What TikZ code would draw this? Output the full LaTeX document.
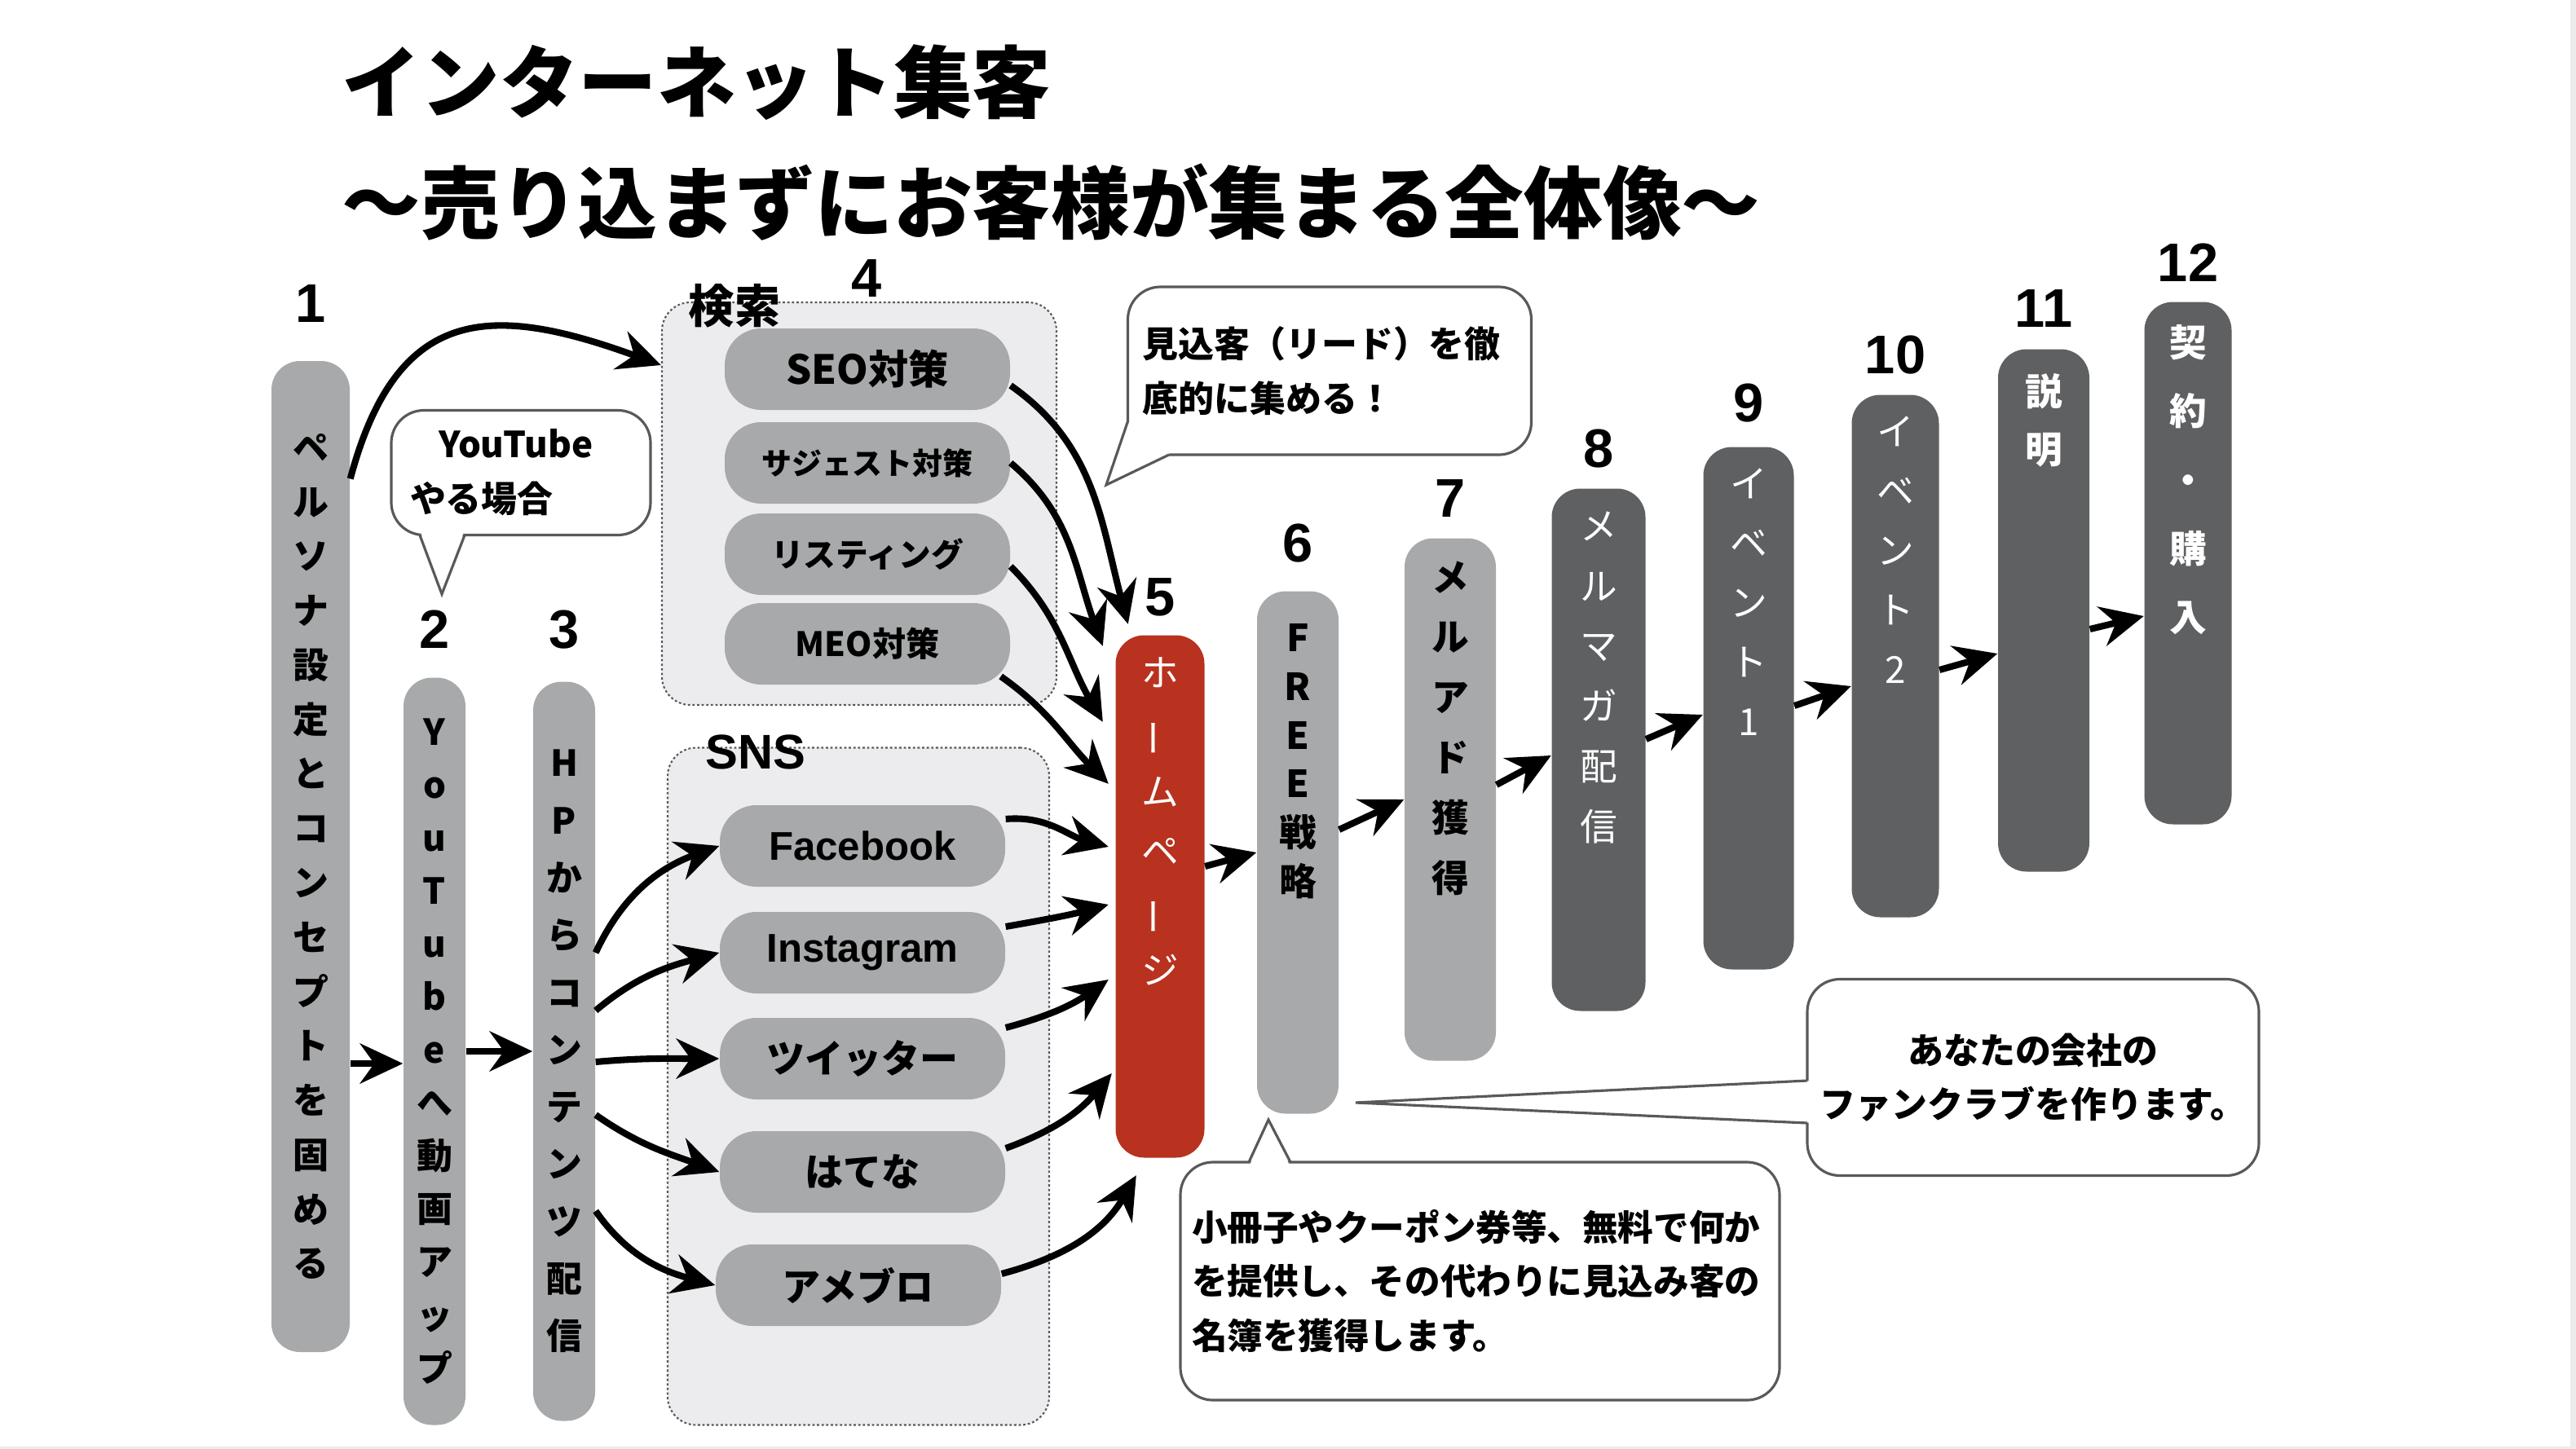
\documentclass[tikz,border=0pt]{standalone}
\usepackage{fontspec}
\usepackage{graphicx}
\setmainfont{Noto Sans CJK JP}
\newfontfamily\hel{Liberation Sans}
\usetikzlibrary{arrows.meta,positioning}

\definecolor{ltgray}{HTML}{A7A9AA}
\definecolor{dkgray}{HTML}{5F6062}
\definecolor{hpred}{HTML}{B8321F}
\definecolor{grpfill}{HTML}{ECECEE}
\definecolor{edgegray}{HTML}{58595B}
\definecolor{strip}{HTML}{EBEBEB}

\newcommand{\fsz}[2]{\fontsize{#1}{#2}\selectfont}
\newcommand{\chouon}{\rotatebox[origin=c]{90}{ー}}

\tikzset{
  title/.style={anchor=west, inner sep=0pt, font=\bfseries\fsz{27.5}{27.5}},
  bar/.style={rounded corners=0.35cm, inner sep=0pt, align=center, minimum width=1.1cm, minimum height=6.41cm},
  vtxt/.style={align=center, inner sep=0pt},
  grp/.style={draw=edgegray, fill=grpfill, line width=0.6pt, dash pattern=on 0.8pt off 0.8pt, rounded corners=0.35cm},
  item/.style={fill=ltgray, rounded corners=0.45cm, inner sep=0pt, minimum width=3.5cm, minimum height=1cm},
  num/.style={inner sep=0pt, font=\hel\bfseries\fsz{19}{19}},
  bubble/.style={draw=edgegray, fill=white, line width=0.9pt, rounded corners=0.4cm, inner ysep=0pt, font=\bfseries\fsz{12.5}{19}},
  ptr/.style={draw=edgegray, line width=0.9pt},
  arr/.style={-{Stealth[length=15pt,width=14pt,inset=5pt]}, line width=2.3pt},
}

\begin{document}
\begin{tikzpicture}
\useasboundingbox (0,0) rectangle (31.6,-17.78);
\fill[strip] (31.53,0) rectangle (31.6,-17.78);
\fill[strip] (0,-17.75) rectangle (31.6,-17.78);

% title
\node[title] (t1) at (4.19,-1.01) {インターネット集客};
\node[title] (t2) at (4.19,-2.48) {〜売り込まずにお客様が集まる全体像〜};

% groups
\node[grp, minimum width=4.84cm, minimum height=4.94cm] (g4) at (10.54,-6.18) {};
\node[grp, minimum width=4.68cm, minimum height=8.31cm] (g5) at (10.53,-13.33) {};
\node[font=\bfseries\fsz{16}{16}] (kensaku) at (9.01,-3.75) {検索};
\node[font=\hel\bfseries\fsz{17}{17}] (sns) at (9.27,-9.23) {SNS};

\node[item, font=\bfseries\fsz{14}{14}] (seo) at (10.64,-4.53) {SEO対策};
\node[item, font=\bfseries\fsz{10.5}{10.5}] (sug) at (10.64,-5.68) {サジェスト対策};
\node[item, font=\bfseries\fsz{11.3}{11.3}] (lst) at (10.64,-6.80) {リスティング};
\node[item, font=\bfseries\fsz{11.7}{11.7}] (meo) at (10.64,-7.90) {MEO対策};

\node[item, font=\hel\bfseries\fsz{14}{14}] (fb) at (10.58,-10.38) {Facebook};
\node[item, font=\hel\bfseries\fsz{14}{14}] (ig) at (10.58,-11.69) {Instagram};
\node[item, font=\bfseries\fsz{13.4}{13.4}] (tw) at (10.58,-12.99) {ツイッター};
\node[item, font=\bfseries\fsz{13.4}{13.4}] (htn) at (10.58,-14.38) {はてな};
\node[item, font=\bfseries\fsz{13.4}{13.4}] (ame) at (10.53,-15.77) {アメブロ};

% steps 1-3
\node[bar, fill=ltgray, minimum width=0.96cm, minimum height=12.16cm, font=\bfseries\fsz{12.5}{19}] (b1) at (3.81,-10.51)
  {ペ\\ル\\ソ\\ナ\\設\\定\\と\\コ\\ン\\セ\\プ\\ト\\を\\固\\め\\る};
\node[bar, fill=ltgray, minimum width=0.76cm, minimum height=9.17cm, font=\bfseries\fsz{12.5}{18.5}] (b2) at (5.33,-12.90)
  {Y\\o\\u\\T\\u\\b\\e\\へ\\動\\画\\ア\\ッ\\プ};
\node[bar, fill=ltgray, minimum width=0.76cm, minimum height=9.07cm, font=\bfseries\fsz{12.5}{20}] (b3) at (6.92,-12.90)
  {H\\P\\か\\ら\\コ\\ン\\テ\\ン\\ツ\\配\\信};

% steps 5-12
\node[bar, fill=hpred, minimum width=1.09cm] (b5) at (14.23,-11.00) {};
\node[bar, fill=ltgray, minimum width=1.00cm] (b6) at (15.92,-10.46) {};
\node[bar, fill=ltgray, minimum width=1.12cm] (b7) at (17.79,-9.81) {};
\node[bar, fill=dkgray, minimum width=1.15cm] (b8) at (19.61,-9.20) {};
\node[bar, fill=dkgray, minimum width=1.11cm] (b9) at (21.45,-8.69) {};
\node[bar, fill=dkgray, minimum width=1.07cm] (b10) at (23.25,-8.05) {};
\node[bar, fill=dkgray, minimum width=1.12cm] (b11) at (25.07,-7.49) {};
\node[bar, fill=dkgray, minimum width=1.07cm] (b12) at (26.84,-6.91) {};

\node[vtxt, white, font=\fsz{13}{20.8}, below=0.27cm of b5.north] (t5) {ホ\\\chouon\\ム\\ペ\\\chouon\\ジ};
\node[vtxt, font=\bfseries\fsz{13}{17}, below=0.40cm of b6.north] (t6) {F\\R\\E\\E\\戦\\略};
\node[vtxt, font=\bfseries\fsz{13}{21}, below=0.28cm of b7.north] (t7) {メ\\ル\\ア\\ド\\獲\\得};
\node[vtxt, white, font=\fsz{13}{21}, below=0.28cm of b8.north] (t8) {メ\\ル\\マ\\ガ\\配\\信};
\node[vtxt, white, font=\fsz{13}{20.8}, below=0.26cm of b9.north] (t9) {イ\\ベ\\ン\\ト\\1};
\node[vtxt, white, font=\fsz{13}{20.8}, below=0.26cm of b10.north] (t10) {イ\\ベ\\ン\\ト\\2};
\node[vtxt, white, font=\bfseries\fsz{13}{20.2}, below=0.30cm of b11.north] (t11) {説\\明};
\node[vtxt, white, font=\bfseries\fsz{13}{24}, below=0.28cm of b12.north] (t12) {契\\約\\・\\購\\入};

% step numbers
\node[num, above=0.46cm of b1.north] (n1) {1};
\node[num, above=0.35cm of b2.north] (n2) {2};
\node[num, above=0.39cm of b3.north] (n3) {3};
\node[num] (n4) at (10.63,-3.42) {4};
\node[num, above=0.22cm of b5.north] (n5) {5};
\node[num, above=0.34cm of b6.north] (n6) {6};
\node[num, above=0.25cm of b7.north] (n7) {7};
\node[num, above=0.24cm of b8.north] (n8) {8};
\node[num, above=0.29cm of b9.north] (n9) {9};
\node[num, above=0.24cm of b10.north] (n10) {10};
\node[num, above=0.26cm of b11.north] (n11) {11};
\node[num, above=0.24cm of b12.north] (n12) {12};

% arrows
\draw[arr] (b1.84) to[out=75, in=160, looseness=1.4] ([yshift=1.7cm]g4.west);
\draw[arr] ([yshift=-0.15cm]b1.east |- b2.west) -- ([yshift=-0.15cm]b2.west);
\draw[arr] (b2.east) -- (b3.west);

\draw[arr] ([yshift=1.21cm]b3.east) to[out=65, in=200] (fb.west);
\draw[arr] ([yshift=0.50cm]b3.east) to[out=40, in=195] (ig.west);
\draw[arr] ([yshift=-0.13cm]b3.east) to[out=5, in=180] (tw.west);
\draw[arr] ([yshift=-0.78cm]b3.east) to[out=-35, in=160] (htn.west);
\draw[arr] ([yshift=-1.96cm]b3.east) to[out=-55, in=165] (ame.west);

\draw[arr] ([yshift=-0.2cm]seo.east) to[out=-35, in=105] ([xshift=0.16cm,yshift=0.13cm]b5.north west);
\draw[arr] (sug.east) to[out=-40, in=110] ([xshift=-0.15cm,yshift=-0.14cm]b5.north west);
\draw[arr] ([yshift=-0.15cm]lst.east) to[out=-45, in=120] ([xshift=-0.15cm,yshift=-1.07cm]b5.north west);
\draw[arr] ([xshift=-0.12cm,yshift=-0.4cm]meo.east) to[out=-35, in=135] ([xshift=-0.08cm,yshift=-1.83cm]b5.north west);

\draw[arr] ([yshift=0.33cm]fb.east) to[out=5, in=165] ([xshift=-0.08cm,yshift=0.61cm]b5.west);
\draw[arr] ([yshift=0.32cm]ig.east) to[out=10, in=195] ([xshift=-0.08cm,yshift=-0.10cm]b5.west);
\draw[arr] ([yshift=0.38cm]tw.east) to[out=15, in=215] ([xshift=-0.08cm,yshift=-1.02cm]b5.west);
\draw[arr] ([yshift=0.29cm]htn.east) to[out=20, in=230] ([xshift=-0.04cm,yshift=-2.17cm]b5.west);
\draw[arr] ([yshift=0.14cm]ame.east) to[out=15, in=240] ([xshift=0.26cm,yshift=-0.21cm]b5.south west);

\foreach \a/\b/\s/\t in {5/6/0.37cm/0cm, 6/7/0.28cm/0cm, 7/8/0.18cm/-0.07cm, 8/9/0.13cm/-0.08cm,
    9/10/0.03cm/-0.37cm, 10/11/-0.17cm/-0.53cm, 11/12/-0.23cm/-0.65cm}
  \draw[arr] ([yshift=\s]b\a.east) -- ([yshift=\t]b\b.west);

% callouts
\node[bubble, minimum width=3.18cm, minimum height=1.53cm, text width=2.72cm, inner xsep=0.23cm, align=left] (yb) at (6.39,-5.80)
  {\hspace{0.8em}YouTube\\やる場合};
\fill[white] (5.15,-6.50) -- (5.42,-7.29) -- (5.70,-6.50) -- cycle;
\draw[ptr] (5.15,-6.567) -- (5.42,-7.29) -- (5.70,-6.567);

\node[bubble, minimum width=4.95cm, minimum height=2.06cm, text width=4.59cm, inner xsep=0.18cm, align=left] (lb) at (16.31,-4.55)
  {見込客（リード）を徹\\底的に集める！};
\fill[white] (13.79,-5.18) -- (13.57,-5.95) -- (14.34,-5.62) -- (14.34,-5.18) -- cycle;
\draw[ptr] (13.835,-5.17) -- (13.57,-5.95) -- (14.34,-5.58);

\node[bubble, minimum width=5.54cm, minimum height=2.41cm, align=center] (fanb) at (24.94,-13.22)
  {あなたの会社の\\ファンクラブを作ります。};
\fill[white] (22.25,-13.26) -- (16.63,-13.53) -- (22.25,-13.78) -- cycle;
\draw[ptr] (22.17,-13.26) -- (16.63,-13.53) -- (22.17,-13.78);

\node[bubble, minimum width=7.35cm, minimum height=2.92cm, text width=7.07cm, inner xsep=0.14cm, align=left, font=\bfseries\fsz{12.4}{19}] (freeb) at (18.155,-15.72)
  {小冊子やクーポン券等、無料で何か\\を提供し、その代わりに見込み客の\\名簿を獲得します。};
\fill[white] (15.32,-14.32) -- (15.56,-13.74) -- (15.83,-14.32) -- cycle;
\draw[ptr] (15.32,-14.26) -- (15.56,-13.74) -- (15.83,-14.26);
\end{tikzpicture}
\end{document}
